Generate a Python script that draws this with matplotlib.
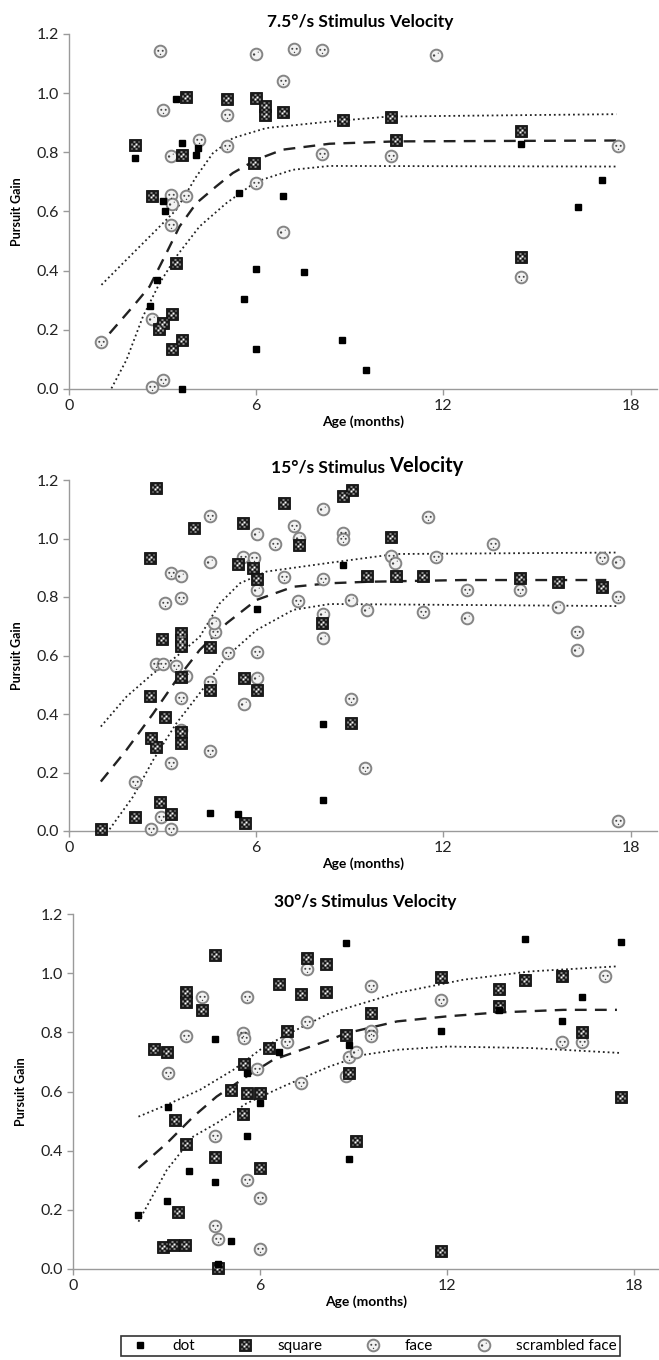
import matplotlib
matplotlib.use('Agg')

import matplotlib.pyplot as plt
from matplotlib.path import Path

plt.rcParams['font.family'] = ['Lato', 'DejaVu Sans']

# ---- panel 1: 7.5 deg/s ----
p1_dot = [(2.10, 0.78), (3.44, 0.98), (3.62, 0.83), (4.08, 0.79), (4.15, 0.815),
          (3.01, 0.635), (3.08, 0.60), (2.82, 0.367), (2.61, 0.279), (3.62, 0.0),
          (5.44, 0.661), (5.60, 0.303), (6.0, 0.407), (6.0, 0.135), (6.87, 0.651),
          (7.52, 0.397), (8.75, 0.164), (9.52, 0.064), (14.49, 0.829), (16.32, 0.615),
          (17.09, 0.707)]
p1_square = [(2.13, 0.825), (2.66, 0.651), (3.76, 0.986), (3.62, 0.791), (3.44, 0.425),
             (3.30, 0.253), (3.01, 0.224), (2.90, 0.202), (3.30, 0.135), (3.62, 0.164),
             (5.07, 0.980), (6.0, 0.983), (6.29, 0.955), (6.29, 0.927), (6.87, 0.936),
             (5.92, 0.764), (8.77, 0.908), (10.33, 0.921), (10.47, 0.840), (14.49, 0.873),
             (14.49, 0.445)]
p1_face = [(2.93, 1.141), (3.01, 0.942), (3.28, 0.656), (3.28, 0.555), (3.76, 0.651),
           (4.16, 0.840), (5.07, 0.925), (5.07, 0.823), (6.0, 0.698), (6.87, 1.040),
           (7.22, 1.149), (8.11, 1.145), (8.11, 0.795), (1.01, 0.160), (2.66, 0.008),
           (3.01, 0.030), (10.31, 0.789), (14.49, 0.380), (17.59, 0.820)]
p1_scrambled = [(3.28, 0.786), (3.30, 0.626), (6.0, 1.132), (6.87, 0.530), (2.66, 0.237),
                (11.75, 1.130)]
p1_mean = [(1.30, 0.188), (2.05, 0.279), (2.58, 0.346), (3.12, 0.459), (3.54, 0.549),
           (4.08, 0.628), (4.72, 0.685), (5.25, 0.730), (6.0, 0.775), (6.85, 0.809),
           (8.35, 0.829), (10.47, 0.837), (17.54, 0.840)]
p1_upper = [(1.04, 0.352), (2.05, 0.459), (2.80, 0.538), (3.44, 0.606), (4.08, 0.718),
            (4.61, 0.797), (5.25, 0.848), (6.32, 0.882), (8.35, 0.904), (10.25, 0.921),
            (17.54, 0.929)]
p1_lower = [(1.36, 0.002), (1.84, 0.098), (2.37, 0.245), (2.90, 0.357), (3.44, 0.448),
            (4.18, 0.549), (5.04, 0.628), (6.0, 0.701), (7.17, 0.741), (8.35, 0.754),
            (17.54, 0.752)]

# ---- panel 2: 15 deg/s ----
p2_dot = [(4.53, 0.060), (5.43, 0.058), (6.01, 0.759), (8.13, 0.366), (8.13, 0.106),
          (8.77, 0.909)]
p2_square = [(2.80, 1.171), (2.61, 0.932), (4.01, 1.037), (2.99, 0.658), (3.60, 0.676),
             (3.60, 0.653), (3.60, 0.632), (3.60, 0.528), (2.61, 0.462), (3.09, 0.389),
             (2.64, 0.317), (2.80, 0.286), (3.60, 0.340), (3.60, 0.302), (2.91, 0.098),
             (2.11, 0.049), (3.28, 0.058), (1.02, 0.006), (4.53, 0.630), (4.53, 0.482),
             (5.58, 1.054), (5.43, 0.913), (5.90, 0.898), (6.01, 0.862), (5.60, 0.522),
             (6.01, 0.482), (5.65, 0.028), (6.89, 1.123), (7.37, 0.978), (8.10, 0.712),
             (8.77, 1.146), (9.07, 1.166), (10.31, 1.004), (9.56, 0.873), (10.47, 0.873),
             (11.36, 0.873), (14.47, 0.864), (15.68, 0.850), (17.09, 0.833), (9.03, 0.370)]
p2_face = [(4.53, 1.077), (3.28, 0.881), (3.60, 0.795), (3.07, 0.778), (4.67, 0.679),
           (5.10, 0.607), (2.80, 0.570), (3.01, 0.571), (3.44, 0.565), (3.60, 0.454),
           (4.53, 0.511), (4.53, 0.275), (3.28, 0.231), (2.11, 0.166), (2.64, 0.007),
           (2.94, 0.047), (3.28, 0.006), (5.58, 0.936), (5.92, 0.932), (6.01, 0.613),
           (6.60, 0.981), (6.89, 0.867), (7.21, 1.044), (7.35, 0.787), (8.13, 0.862),
           (8.77, 1.018), (8.77, 0.997), (9.03, 0.451), (9.50, 0.214), (10.31, 0.940),
           (11.51, 1.072), (11.75, 0.938), (11.36, 0.748), (12.77, 0.824), (13.58, 0.981),
           (14.47, 0.824), (16.28, 0.681), (17.09, 0.932), (17.59, 0.801), (17.59, 0.034)]
p2_scrambled = [(3.60, 0.873), (4.53, 0.918), (4.64, 0.710), (3.60, 0.345), (6.01, 1.014),
                (6.01, 0.824), (6.01, 0.524), (7.37, 1.001), (8.13, 1.101), (8.13, 0.742),
                (8.13, 0.659), (9.03, 0.790), (9.56, 0.756), (10.44, 0.915), (12.77, 0.729),
                (15.68, 0.767), (16.28, 0.619), (17.59, 0.921), (5.62, 0.434), (3.76, 0.531)]
p2_mean = [(1.02, 0.169), (1.84, 0.277), (2.70, 0.402), (3.44, 0.516), (4.19, 0.619),
           (5.05, 0.710), (6.01, 0.790), (7.19, 0.835), (8.36, 0.847), (9.56, 0.852),
           (12.61, 0.858), (17.22, 0.858)]
p2_upper = [(1.02, 0.357), (1.84, 0.459), (2.70, 0.539), (3.44, 0.596), (4.19, 0.664),
            (4.83, 0.778), (5.48, 0.847), (6.33, 0.887), (8.36, 0.917), (10.47, 0.947),
            (17.59, 0.952)]
p2_lower = [(1.30, 0.006), (2.05, 0.117), (2.70, 0.243), (3.44, 0.368), (4.19, 0.471),
            (5.05, 0.596), (6.01, 0.687), (7.19, 0.756), (8.36, 0.776), (17.59, 0.769)]

# ---- panel 3: 30 deg/s ----
p3_dot = [(2.10, 0.183), (3.01, 0.231), (3.06, 0.549), (3.72, 0.332), (4.54, 0.777),
          (4.54, 0.293), (5.07, 0.096), (4.66, 0.017), (5.57, 0.664), (5.57, 0.450),
          (6.0, 0.560), (6.60, 0.733), (8.77, 1.102), (8.84, 0.758), (8.84, 0.371),
          (11.81, 0.805), (14.51, 1.117), (13.66, 0.876), (15.70, 0.839), (16.33, 0.918),
          (17.59, 1.105)]
p3_square = [(2.60, 0.744), (3.01, 0.735), (3.26, 0.502), (3.61, 0.938), (3.61, 0.901),
             (3.61, 0.423), (3.38, 0.191), (2.90, 0.076), (3.22, 0.081), (3.60, 0.081),
             (4.13, 0.874), (4.54, 1.062), (4.54, 0.380), (4.66, 0.002), (5.06, 0.606),
             (5.50, 0.694), (5.57, 0.594), (5.44, 0.523), (6.0, 0.594), (6.0, 0.343),
             (6.30, 0.747), (6.60, 0.964), (6.85, 0.805), (7.33, 0.930), (7.50, 1.051),
             (8.11, 1.031), (8.11, 0.938), (8.77, 0.792), (8.84, 0.664), (9.09, 0.433),
             (9.57, 0.865), (11.81, 0.987), (11.81, 0.061), (13.66, 0.947), (13.66, 0.890),
             (14.51, 0.978), (15.70, 0.989), (16.33, 0.801), (17.59, 0.581)]
p3_face = [(3.06, 0.662), (3.61, 0.789), (4.13, 0.918), (4.54, 0.448), (4.54, 0.145),
           (4.66, 0.101), (5.57, 0.918), (5.44, 0.797), (5.50, 0.780), (5.89, 0.677),
           (5.57, 0.301), (6.0, 0.239), (6.0, 0.067), (6.85, 0.766), (7.33, 0.628),
           (7.50, 1.015), (7.50, 0.835), (9.57, 0.805), (9.57, 0.786), (8.84, 0.718),
           (11.81, 0.910), (9.57, 0.957), (15.70, 0.769), (16.33, 0.769), (17.08, 0.992)]
p3_scrambled = [(9.09, 0.735), (8.77, 0.653)]
p3_mean = [(2.10, 0.341), (3.01, 0.425), (3.86, 0.515), (4.61, 0.583), (5.57, 0.651),
           (6.42, 0.707), (8.24, 0.775), (8.77, 0.797), (10.40, 0.837), (12.0, 0.854),
           (13.60, 0.867), (15.74, 0.876), (17.45, 0.876)]
p3_upper = [(2.10, 0.515), (3.01, 0.555), (4.08, 0.606), (5.14, 0.673), (6.0, 0.741),
            (6.74, 0.786), (8.24, 0.865), (10.40, 0.933), (12.53, 0.978), (14.67, 1.006),
            (17.45, 1.023)]
p3_lower = [(2.10, 0.160), (3.01, 0.335), (3.86, 0.448), (4.61, 0.493), (5.57, 0.560),
            (6.74, 0.617), (8.24, 0.685), (9.33, 0.724), (10.40, 0.741), (12.0, 0.752),
            (14.67, 0.747), (17.61, 0.730)]

panels = [
    ("7.5°/s Stimulus ", "Velocity", 12, p1_dot, p1_square, p1_face, p1_scrambled,
     p1_mean, p1_upper, p1_lower),
    ("15°/s Stimulus ", "Velocity", 14, p2_dot, p2_square, p2_face, p2_scrambled,
     p2_mean, p2_upper, p2_lower),
    ("30°/s Stimulus ", "Velocity", 12, p3_dot, p3_square, p3_face, p3_scrambled,
     p3_mean, p3_upper, p3_lower),
]


def compound(paths):
    return Path.make_compound_path(*paths)


def small_square(cx, cy, h):
    return Path([(cx - h, cy - h), (cx + h, cy - h), (cx + h, cy + h), (cx - h, cy + h),
                 (cx - h, cy - h)], [Path.MOVETO, Path.LINETO, Path.LINETO, Path.LINETO,
                                     Path.CLOSEPOLY])


# white checker inside the black square marker (coords: square half-side = 1)
cells = []
for i in range(4):
    for j in range(4):
        if (i + j) % 2 == 0:
            cells.append(small_square(-0.54 + i * 0.36, -0.54 + j * 0.36, 0.12))
CHECKER = compound(cells)
CHECKER_EXT = 0.66

# face features (circle radius = 1)
FACE = compound([Path.circle((-0.38, 0.12), 0.17), Path.circle((0.38, 0.12), 0.17),
                 Path.circle((0.0, -0.5), 0.12)])
FACE_EXT = 0.62
SCRAM = compound([Path.circle((-0.42, 0.0), 0.2), Path.circle((0.3, 0.4), 0.1)])
SCRAM_EXT = 0.62

SQ_MS = 8.6
CIRC_MS = 8.4


def draw_square(ax, pts):
    xs = [p[0] for p in pts]
    ys = [p[1] for p in pts]
    a = ax.plot(xs, ys, 's', ms=SQ_MS, mfc='#1a1a1a', mec='#111111', mew=0.6,
                clip_on=False, zorder=4)[0]
    b = ax.plot(xs, ys, ls='none', marker=CHECKER, ms=SQ_MS * CHECKER_EXT, mfc='white',
                mec='none', clip_on=False, zorder=5)[0]
    return a, b


def draw_circle(ax, pts, feat, ext):
    xs = [p[0] for p in pts]
    ys = [p[1] for p in pts]
    a = ax.plot(xs, ys, 'o', ms=CIRC_MS, mfc='#f2f2f2', mec='#858585', mew=1.4,
                clip_on=False, zorder=3)[0]
    b = ax.plot(xs, ys, ls='none', marker=feat, ms=CIRC_MS * ext, mfc='#444444',
                mec='none', clip_on=False, zorder=3.5)[0]
    return a, b


fig = plt.figure(figsize=(6.59, 13.6), dpi=100)
W, H = 659.0, 1360.0
# axes boxes in pixels: left, y of 0.0, y of 1.2, pixels per month, x max
boxes = [(69, 389, 34, 31.2, 18.85), (69, 831, 480, 31.2, 18.85), (73, 1269, 914, 31.17, 18.8)]

handles = None
for (t1, t2, t2size, dots, squares, faces, scr, mean, upper, lower), box in zip(panels, boxes):
    left, ybot, ytop, ppm, xmax = box
    ax = fig.add_axes([left / W, (H - ybot) / H, ppm * xmax / W, (ybot - ytop) / H])
    ax.set_xlim(0, xmax)
    ax.set_ylim(0, 1.2)

    for curve, style, lw in ((upper, ':', 1.3), (lower, ':', 1.3), (mean, (0, (5, 3.5)), 1.7)):
        ax.plot([p[0] for p in curve], [p[1] for p in curve], color='#222222',
                ls=style, lw=lw, zorder=2)

    hf = draw_circle(ax, faces, FACE, FACE_EXT)
    hs = draw_circle(ax, scr, SCRAM, SCRAM_EXT)
    hq = draw_square(ax, squares)
    hd = ax.plot([p[0] for p in dots], [p[1] for p in dots], 's', ms=3.8, color='black',
                 clip_on=False, zorder=6)[0]
    if handles is None:
        handles = [hd, hq, hf, hs]

    for side in ('top', 'right'):
        ax.spines[side].set_visible(False)
    for side in ('left', 'bottom'):
        ax.spines[side].set_color('#9a9a9a')
        ax.spines[side].set_linewidth(1.0)
    ax.set_xticks([0, 6, 12, 18])
    ax.set_yticks([0.0, 0.2, 0.4, 0.6, 0.8, 1.0, 1.2])
    ax.set_yticklabels(['0.0', '0.2', '0.4', '0.6', '0.8', '1.0', '1.2'])
    ax.tick_params(length=4, width=1.0, color='#9a9a9a', labelsize=11.5,
                   labelcolor='#222222', pad=3)

    ax.set_xlabel('Age (months)', fontsize=10, fontweight='bold', labelpad=2)
    ax.set_ylabel('Pursuit Gain', fontsize=9, fontweight='bold', labelpad=10)

    # title in two parts so "Velocity" can have its own size
    ax.annotate(t1, xy=(0.545, 1.0), xycoords='axes fraction', xytext=(0, 3),
                textcoords='offset points', ha='right', va='bottom', fontsize=12.5,
                fontweight='bold')
    ax.annotate(t2, xy=(0.545, 1.0), xycoords='axes fraction', xytext=(0, 3),
                textcoords='offset points', ha='left', va='bottom', fontsize=t2size + 0.5,
                fontweight='bold')

labels = ['dot', 'square', 'face', 'scrambled face']
leg_handles = [handles[0], tuple(handles[1]), tuple(handles[2]), tuple(handles[3])]
leg = fig.legend(leg_handles, labels, loc='center', bbox_to_anchor=(370 / W, 1 - 1346 / H),
                 ncol=4, frameon=True, fancybox=False, fontsize=11, handlelength=2.2,
                 handletextpad=1.0, columnspacing=2.2, borderpad=0.2, borderaxespad=0)
leg.get_frame().set_edgecolor('black')
leg.get_frame().set_linewidth(1.2)

fig.savefig('out.png', dpi=100)
